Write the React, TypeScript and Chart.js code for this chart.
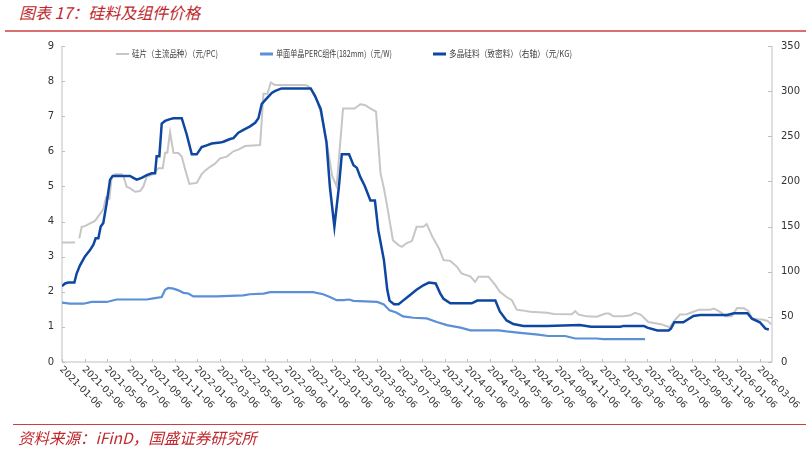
import { useEffect, useRef } from "react"
import { Chart, registerables } from "chart.js"

Chart.register(...registerables)

// x positions are months after 2021-01-06
const xLabels = [
  "2021-01-06", "2021-03-06", "2021-05-06", "2021-07-06", "2021-09-06", "2021-11-06",
  "2022-01-06", "2022-03-06", "2022-05-06", "2022-07-06", "2022-09-06", "2022-11-06",
  "2023-01-06", "2023-03-06", "2023-05-06", "2023-07-06", "2023-09-06", "2023-11-06",
  "2024-01-06", "2024-03-06", "2024-05-06", "2024-07-06", "2024-09-06", "2024-11-06",
  "2025-01-06", "2025-03-06", "2025-05-06", "2025-07-06", "2025-09-06", "2025-11-06",
  "2026-01-06", "2026-03-06",
]
const leftTicks = [0, 1, 2, 3, 4, 5, 6, 7, 8, 9]
const rightTicks = [0, 50, 100, 150, 200, 250, 300, 350]

// 硅片（主流品种）（元/PC）
const waferX = [
  0, 1.16, 1.35, 1.54, 1.75, 2.04, 2.49, 2.93, 3.38, 3.67, 3.91, 4.21, 4.41, 4.71, 5.3, 5.45,
  5.75, 6.04, 6.49, 6.93, 7.23, 7.53, 8.12, 8.56, 8.95, 9.16, 9.36, 9.6, 9.9, 10.34, 10.64,
  10.93, 11.32, 11.97, 12.41, 12.71, 13.16, 13.6, 14.04, 14.64, 15.23, 15.67, 16.27, 17.6,
  17.9, 18.25, 18.55, 18.9, 21.6, 21.9, 22.5, 23.0, 23.5, 24.0, 24.4, 24.97, 26.0, 26.5,
  26.9, 27.5, 27.9, 28.3, 28.6, 28.9, 29.4, 29.9, 30.2, 30.6, 31.1, 31.5, 32.1, 32.4, 32.9,
  33.5, 33.9, 34.5, 35.1, 35.5, 36.3, 36.7, 37.0, 37.9, 38.5, 38.9, 39.5, 39.97, 40.4, 40.9,
  41.6, 43.1, 43.7, 45.3, 45.6, 45.9, 46.6, 47.5, 48.3, 48.6, 49.0, 49.9, 50.5, 50.9, 51.4,
  52.1, 52.6, 53.3, 53.9, 54.0, 54.5, 54.9, 55.5, 56.1, 56.6, 57.6, 57.9, 58.2, 58.6, 58.9,
  59.5, 59.98, 60.6, 61.0, 61.3, 61.8, 62.2, 62.7, 63.0,
]
const waferPrice = [
  3.4, 3.4, null, 3.52, 3.85, 3.87, 3.95, 4.02, 4.22, 4.35, 4.69, 4.65, 5.25, 5.35, 5.35, 5.3,
  4.99, 4.95, 4.85, 4.87, 5.0, 5.28, 5.35, 5.52, 5.52, 5.96, 5.96, 6.54, 5.96, 5.95, 5.85,
  5.5, 5.07, 5.1, 5.35, 5.45, 5.56, 5.65, 5.8, 5.85, 6.0, 6.05, 6.15, 6.18,
  7.64, 7.64, 7.96, 7.89, 7.89, 7.85, 7.6, 7.1, 6.3, 5.3, 5.0, 7.22, 7.22, 7.34,
  7.32, 7.2, 7.13, 5.37, 4.95, 4.42, 3.47, 3.33, 3.28, 3.38, 3.45, 3.85, 3.85, 3.93, 3.57,
  3.23, 2.9, 2.88, 2.71, 2.52, 2.43, 2.28, 2.43, 2.43, 2.19, 2.0, 1.85, 1.76, 1.49, 1.47,
  1.43, 1.4, 1.37, 1.36, 1.45, 1.35, 1.3, 1.29, 1.38, 1.38, 1.3, 1.3, 1.33, 1.4, 1.35,
  1.14, 1.11, 1.07, 1.0, 1.0, 1.21, 1.35, 1.36, 1.43, 1.49, 1.49, 1.52, 1.48, 1.4, 1.3,
  1.3, 1.54, 1.53, 1.45, 1.24, 1.22, 1.21, 1.17, 1.07,
]

// 单面单晶PERC组件(182mm)（元/W）
const moduleX = [
  0, 0.71, 1.9, 2.64, 3.97, 4.86, 7.53, 8.12, 8.86, 9.16, 9.45, 9.9, 10.34, 10.79, 11.23,
  11.67, 13.75, 16.1, 16.7, 17.9, 18.5, 22.3, 23.2, 23.8, 24.4, 25.0, 25.5, 25.9, 28.0,
  28.6, 29.1, 29.7, 30.3, 31.2, 32.4, 33.3, 34.2, 35.4, 36.3, 38.8, 39.5, 40.7, 41.4, 42.3,
  43.2, 44.7, 45.6, 47.5, 48.1, 51.8,
]
const modulePrice = [
  1.69, 1.66, 1.66, 1.71, 1.71, 1.78, 1.78, 1.81, 1.85, 2.06, 2.11, 2.09, 2.04, 1.97, 1.95,
  1.87, 1.87, 1.9, 1.93, 1.95, 1.99, 1.99, 1.93, 1.85, 1.76, 1.76, 1.78, 1.74, 1.71,
  1.64, 1.47, 1.41, 1.3, 1.26, 1.24, 1.14, 1.05, 0.98, 0.9, 0.9, 0.87, 0.83, 0.81, 0.78,
  0.74, 0.74, 0.67, 0.67, 0.65, 0.65,
]

// 多晶硅料（致密料）（右轴）（元/KG）
const polyX = [
  0, 0.27, 0.56, 1.1, 1.3, 1.6, 2.04, 2.49, 2.79, 2.99, 3.23, 3.44, 3.67, 3.97, 4.27, 4.5,
  6.04, 6.34, 6.64, 7.08, 7.53, 7.97, 8.27, 8.41, 8.65, 8.86, 9.16, 9.6, 9.9, 10.64, 11.08,
  11.53, 11.97, 12.41, 12.86, 13.3, 14.04, 14.34, 14.93, 15.23, 15.67, 16.12, 16.71, 17.16,
  17.45, 17.75, 18.19, 18.64, 18.9, 19.5, 22.1, 22.5, 22.99, 23.5, 23.8, 24.2, 24.6, 24.86,
  25.5, 25.9, 26.2, 26.5, 26.9, 27.4, 27.8, 28.1, 28.6, 28.9, 29.1, 29.5, 29.9, 30.3, 30.9,
  31.5, 32.1, 32.6, 33.2, 33.6, 33.9, 34.5, 36.4, 36.9, 38.5, 38.9, 39.5, 40.1, 41.0, 43.1,
  46.0, 47.0, 49.6, 49.9, 51.7, 52.0, 52.9, 53.9, 54.1, 54.4, 55.2, 56.1, 56.7, 59.1, 59.7,
  60.9, 61.3, 62.0, 62.5, 62.8,
]
const polyPrice = [
  84, 87, 88, 88, 98, 107, 117, 124, 130, 137, 137, 150, 154, 176, 202, 206,
  206, 204, 202, 204, 207, 209, 209, 228, 228, 264, 267, 269, 270, 270, 252,
  230, 230, 238, 240, 242, 243, 244, 247, 248, 254, 257, 261, 265,
  270, 286, 292, 298, 300, 303, 303, 294, 280, 243, 194, 150, 194, 230,
  230, 218, 215, 205, 195, 179, 179, 146, 113, 80, 68, 64, 64, 68, 74,
  80, 85, 88, 87, 76, 70, 65, 65, 68, 68, 56, 46, 42, 40, 40,
  41, 39, 39, 40, 40, 38, 35, 35, 37, 44, 44, 51, 52, 52, 54,
  54, 48, 44, 37, 36,
]

const legendItems = [
  { text: "硅片（主流品种）（元/PC)", color: "#c6c6c6", width: 2 },
  { text: "单面单晶PERC组件(182mm)（元/W)", color: "#5b8fd6", width: 3 },
  { text: "多晶硅料（致密料）（右轴）（元/KG)", color: "#0e47a1", width: 3 },
]

const toPoints = (xs: number[], ys: (number | null)[]) => xs.map((x, i) => ({ x, y: ys[i] }))

const axisPlugin = {
  id: "axisPlugin",
  beforeDatasetsDraw(chart: any) {
    const { ctx, chartArea } = chart
    const x = chart.scales.x
    const yl = chart.scales.y
    const yr = chart.scales.y1
    ctx.save()
    ctx.strokeStyle = "#bfbfbf"
    ctx.lineWidth = 1
    ctx.beginPath()
    ctx.moveTo(chartArea.left, chartArea.top)
    ctx.lineTo(chartArea.left, chartArea.bottom)
    ctx.lineTo(chartArea.right, chartArea.bottom)
    ctx.moveTo(chartArea.right, chartArea.top)
    ctx.lineTo(chartArea.right, chartArea.bottom)
    leftTicks.forEach((v) => {
      const py = Math.round(yl.getPixelForValue(v)) + 0.5
      ctx.moveTo(chartArea.left, py)
      ctx.lineTo(chartArea.left + 3, py)
    })
    rightTicks.forEach((v) => {
      const py = Math.round(yr.getPixelForValue(v)) + 0.5
      ctx.moveTo(chartArea.right, py)
      ctx.lineTo(chartArea.right - 4, py)
    })
    xLabels.forEach((_, i) => {
      const px = Math.round(x.getPixelForValue(i * 2)) + 0.5
      ctx.moveTo(px, chartArea.bottom)
      ctx.lineTo(px, chartArea.bottom - 3)
    })
    ctx.stroke()
    ctx.restore()
  },
  afterDraw(chart: any) {
    const { ctx, chartArea } = chart
    const x = chart.scales.x
    const yl = chart.scales.y
    const yr = chart.scales.y1
    ctx.save()
    ctx.fillStyle = "#333333"
    ctx.font = "10px 'DejaVu Sans'"
    ctx.textBaseline = "middle"
    ctx.textAlign = "right"
    leftTicks.forEach((v) => ctx.fillText(String(v), chartArea.left - 8, yl.getPixelForValue(v)))
    ctx.textAlign = "left"
    rightTicks.forEach((v) => ctx.fillText(String(v), chartArea.right + 9, yr.getPixelForValue(v)))

    ctx.font = "9.5px 'DejaVu Sans'"
    xLabels.forEach((label, i) => {
      const px = x.getPixelForValue(i * 2)
      ctx.save()
      ctx.translate(px - 1, chartArea.bottom + 6)
      ctx.rotate(Math.PI / 4)
      ctx.textAlign = "left"
      ctx.textBaseline = "middle"
      ctx.fillText(label, 0, 0)
      ctx.restore()
    })

    // legend
    const starts = [116, 260, 433]
    const ends = [218, 392, 572]
    ctx.font = "9px 'Noto Sans CJK SC'"
    ctx.textBaseline = "middle"
    ctx.textAlign = "left"
    legendItems.forEach((item, i) => {
      const ly = 54
      ctx.strokeStyle = item.color
      ctx.lineWidth = item.width
      ctx.beginPath()
      ctx.moveTo(starts[i], ly)
      ctx.lineTo(starts[i] + 13, ly)
      ctx.stroke()
      ctx.fillStyle = "#404040"
      const tx = starts[i] + 16
      ctx.fillText(item.text, tx, ly, ends[i] - tx)
    })
    ctx.restore()
  },
}

export default function App() {
  const chartRef = useRef<HTMLCanvasElement>(null)
  const chartInstance = useRef<Chart | null>(null)

  useEffect(() => {
    if (!chartRef.current) return
    if (chartInstance.current) chartInstance.current.destroy()
    const ctx = chartRef.current.getContext("2d")
    if (!ctx) return

    chartInstance.current = new Chart(ctx, {
      type: "line",
      data: {
        datasets: [
          {
            label: legendItems[0].text,
            data: toPoints(waferX, waferPrice),
            borderColor: "#c6c6c6",
            borderWidth: 2,
            pointRadius: 0,
            tension: 0,
            spanGaps: false,
            yAxisID: "y",
            order: 3,
          },
          {
            label: legendItems[1].text,
            data: toPoints(moduleX, modulePrice),
            borderColor: "#5b8fd6",
            borderWidth: 2.2,
            pointRadius: 0,
            tension: 0,
            yAxisID: "y",
            order: 2,
          },
          {
            label: legendItems[2].text,
            data: toPoints(polyX, polyPrice),
            borderColor: "#0e47a1",
            borderWidth: 2.5,
            pointRadius: 0,
            tension: 0,
            yAxisID: "y1",
            order: 1,
          },
        ],
      },
      options: {
        animation: false,
        responsive: true,
        maintainAspectRatio: false,
        layout: { padding: { left: 62, right: 39, top: 46, bottom: 88 } },
        plugins: {
          legend: { display: false },
          tooltip: { enabled: false },
        },
        scales: {
          x: { type: "linear", min: 0, max: 63.08, display: false },
          y: { min: 0, max: 9, display: false },
          y1: { min: 0, max: 350, display: false, position: "right" },
        },
      },
      plugins: [axisPlugin],
    })

    return () => {
      if (chartInstance.current) {
        chartInstance.current.destroy()
        chartInstance.current = null
      }
    }
  }, [])

  return (
    <div style={{ position: "fixed", left: 0, top: 0, width: 811, height: 450, background: "#fff" }}>
      <div
        style={{
          position: "absolute",
          left: 19,
          top: 3,
          fontSize: 16,
          lineHeight: "18px",
          fontStyle: "italic",
          color: "#c0282d",
          fontFamily: "'Noto Sans CJK SC'",
          whiteSpace: "nowrap",
        }}
      >
        图表 17：硅料及组件价格
      </div>
      <div style={{ position: "absolute", left: 5, top: 29.5, width: 801, height: 2, background: "#db6f6f" }} />
      <div style={{ position: "absolute", left: 0, top: 0, width: 811, height: 450 }}>
        <canvas ref={chartRef}></canvas>
      </div>
      <div style={{ position: "absolute", left: 13, top: 423.5, width: 793, height: 1.5, background: "#d23c3c" }} />
      <div
        style={{
          position: "absolute",
          left: 18,
          top: 428,
          fontSize: 15.5,
          lineHeight: "18px",
          fontStyle: "italic",
          color: "#c0282d",
          fontFamily: "'Noto Sans CJK SC'",
          whiteSpace: "nowrap",
        }}
      >
        资料来源：iFinD，国盛证券研究所
      </div>
    </div>
  )
}
